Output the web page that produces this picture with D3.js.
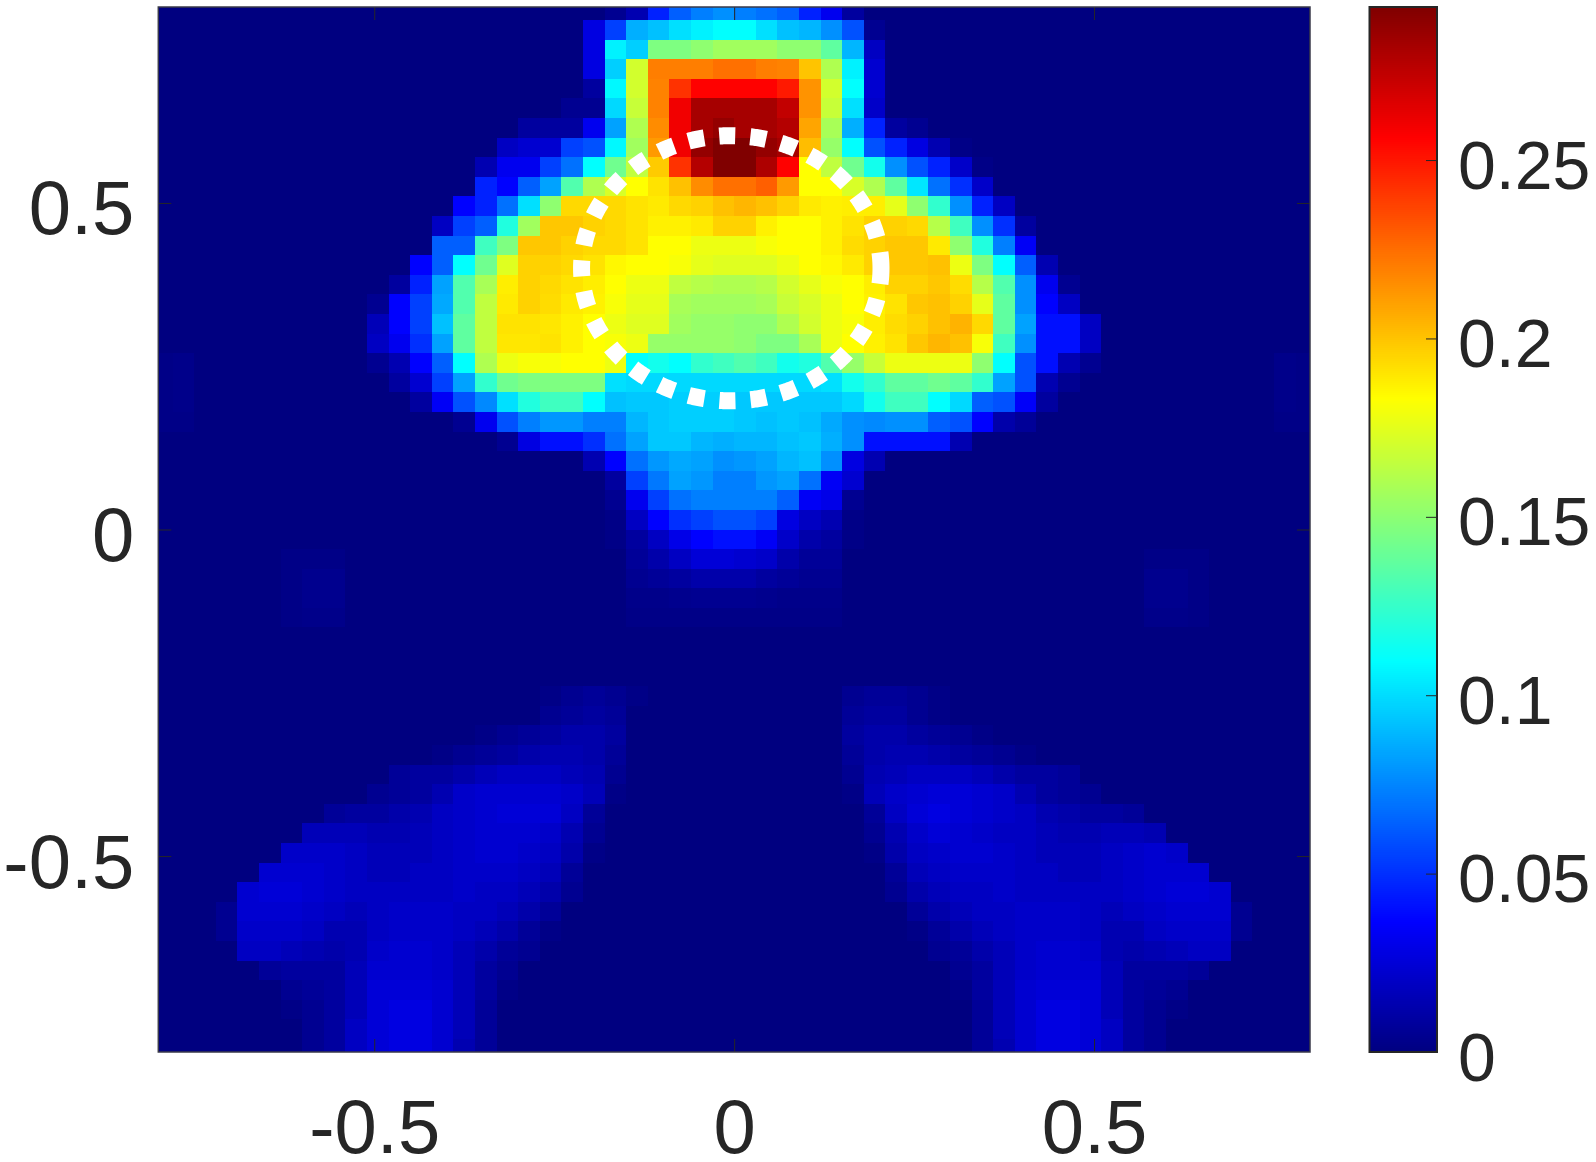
<!DOCTYPE html>
<html><head><meta charset="utf-8">
<script src="https://cdn.jsdelivr.net/npm/d3@7/dist/d3.min.js"></script>
<style>html,body{margin:0;padding:0;background:#fff}svg{display:block}</style>
</head><body><div id="chart"></div>
<script>
// cell values in thousandths, 54 columns per row, top row first
const row00=[0,0,0,0,0,0,0,0,0, 0,0,0,0,0,0,0,0,0, 0,0,0,5,14,46,64,73,78, 73,69,64,46,32,9,0,0,0, 0,0,0,0,0,0,0,0,0, 0,0,0,0,0,0,0,0,0];
const row01=[0,0,0,0,0,0,0,0,0, 0,0,0,0,0,0,0,0,0, 0,0,28,55,87,92,101,106,110, 110,101,92,89,78,60,5,0,0, 0,0,0,0,0,0,0,0,0, 0,0,0,0,0,0,0,0,0];
const row02=[0,0,0,0,0,0,0,0,0, 0,0,0,0,0,0,0,0,0, 0,0,28,106,96,146,146,151,156, 156,156,151,151,137,89,19,0,0, 0,0,0,0,0,0,0,0,0, 0,0,0,0,0,0,0,0,0];
const row03=[0,0,0,0,0,0,0,0,0, 0,0,0,0,0,0,0,0,0, 0,0,28,96,170,220,220,220,224, 224,220,219,200,160,106,23,0,0, 0,0,0,0,0,0,0,0,0, 0,0,0,0,0,0,0,0,0];
const row04=[0,0,0,0,0,0,0,0,0, 0,0,0,0,0,0,0,0,0, 0,0,9,108,170,219,242,256,256, 256,256,249,214,170,110,23,0,0, 0,0,0,0,0,0,0,0,0, 0,0,0,0,0,0,0,0,0];
const row05=[0,0,0,0,0,0,0,0,0, 0,0,0,0,0,0,0,0,0, 0,5,5,99,167,219,260,282,282, 282,282,274,214,167,101,21,0,0, 0,0,0,0,0,0,0,0,0, 0,0,0,0,0,0,0,0,0];
const row06=[0,0,0,0,0,0,0,0,0, 0,0,0,0,0,0,0,0,9, 9,9,32,83,160,216,260,282,287, 282,282,278,209,158,87,46,9,5, 0,0,0,0,0,0,0,0,0, 0,0,0,0,0,0,0,0,0];
const row07=[0,0,0,0,0,0,0,0,0, 0,0,0,0,0,0,0,19,23, 23,55,60,108,156,212,260,287,293, 293,287,282,202,153,110,60,46,28, 14,2,0,0,0,0,0,0,0, 0,0,0,0,0,0,0,0,0];
const row08=[0,0,0,0,0,0,0,0,0, 0,0,0,0,0,0,14,32,32, 55,69,110,142,165,198,242,278,293, 293,280,256,183,165,142,115,78,60, 46,21,2,0,0,0,0,0,0, 0,0,0,0,0,0,0,0,0];
const row09=[0,0,0,0,0,0,0,0,0, 0,0,0,0,0,0,46,37,64, 83,133,160,172,183,191,201,216,224, 224,229,212,183,183,172,160,137,103, 69,50,21,0,0,0,0,0,0, 0,0,0,0,0,0,0,0,0];
const row10=[0,0,0,0,0,0,0,0,0, 0,0,0,0,0,37,46,69,101, 151,194,194,194,191,189,194,196,201, 204,201,196,189,187,188,188,176,151, 124,78,46,19,0,0,0,0,0, 0,0,0,0,0,0,0,0,0];
const row11=[0,0,0,0,0,0,0,0,0, 0,0,0,0,19,55,64,119,156, 199,199,196,194,191,187,187,189,196, 196,187,183,183,187,191,196,196,194, 162,128,78,50,9,0,0,0,0, 0,0,0,0,0,0,0,0,0];
const row12=[0,0,0,0,0,0,0,0,0, 0,0,0,0,64,64,128,146,199, 199,196,194,194,191,183,183,178,178, 178,181,183,183,187,193,196,199,199, 189,151,119,73,34,0,0,0,0, 0,0,0,0,0,0,0,0,0];
const row13=[0,0,0,0,0,0,0,0,0, 0,0,0,37,64,110,142,174,196, 196,194,191,185,183,183,181,176,174, 174,174,178,183,185,189,196,199,199, 201,178,146,110,64,14,0,0,0, 0,0,0,0,0,0,0,0,0];
const row14=[0,0,0,0,0,0,0,0,0, 0,0,9,46,83,133,158,188,196, 194,191,188,183,178,178,165,162,160, 160,162,170,176,181,183,188,196,196, 199,193,162,133,78,32,5,0,0, 0,0,0,0,0,0,0,0,0];
const row15=[0,0,0,0,0,0,0,0,0, 0,5,37,55,85,133,165,189,196, 193,189,187,181,176,176,158,156,156, 156,158,167,172,178,183,187,191,199, 201,196,176,137,78,37,19,0,0, 0,0,0,0,0,0,0,0,0];
const row16=[0,0,0,0,0,0,0,0,0, 0,16,37,55,92,137,165,191,191, 190,187,183,178,174,174,156,153,153, 151,151,160,170,178,181,188,193,196, 201,205,194,137,83,41,41,19,0, 0,0,0,0,0,0,0,0,0];
const row17=[0,0,0,0,0,0,0,0,0, 0,19,32,50,83,137,165,190,190, 191,187,183,181,178,153,153,153,153, 151,146,146,158,178,183,187,191,199, 204,201,181,128,78,41,41,19,0, 0,0,0,0,0,0,0,0,0];
const row18=[2,3,0,0,0,0,0,0,0, 0,5,14,37,64,110,160,178,181, 181,183,183,178,110,115,110,124,128, 133,128,115,119,133,153,167,178,178, 178,178,151,110,60,41,14,5,0, 0,0,0,0,0,0,0,3,2];
const row19=[2,3,0,0,0,0,0,0,0, 0,0,9,23,55,83,124,142,146, 146,146,146,101,99,99,99,99,99, 99,99,99,99,101,115,124,137,137, 142,137,124,83,60,14,5,0,0, 0,0,0,0,0,0,0,3,2];
const row20=[2,3,0,0,0,0,0,0,0, 0,0,0,9,34,60,76,101,119, 128,128,110,92,94,94,96,96,96, 94,94,94,94,94,99,115,128,128, 110,99,64,60,35,9,0,0,0, 0,0,0,0,0,0,0,3,2];
const row21=[2,2,0,0,0,0,0,0,0, 0,0,0,0,0,5,32,60,73, 80,80,73,73,89,94,96,96,96, 94,92,94,92,85,78,76,78,78, 64,60,37,12,7,0,0,0,0, 0,0,0,0,0,0,0,2,2];
const row22=[0,0,0,0,0,0,0,0,0, 0,0,0,0,0,0,0,5,28, 41,41,50,69,83,94,94,89,87, 89,89,92,94,87,78,41,41,41, 41,14,0,0,0,0,0,0,0, 0,0,0,0,0,0,0,0,0];
const row23=[0,0,0,0,0,0,0,0,0, 0,0,0,0,0,0,0,0,0, 0,0,14,37,69,80,85,83,78, 80,83,89,92,78,28,14,0,0, 0,0,0,0,0,0,0,0,0, 0,0,0,0,0,0,0,0,0];
const row24=[0,0,0,0,0,0,0,0,0, 0,0,0,0,0,0,0,0,0, 0,0,0,9,55,71,83,80,73, 73,80,83,69,34,23,0,0,0, 0,0,0,0,0,0,0,0,0, 0,0,0,0,0,0,0,0,0];
const row25=[0,0,0,0,0,0,0,0,0, 0,0,0,0,0,0,0,0,0, 0,0,0,5,32,55,69,73,73, 73,73,64,34,30,5,0,0,0, 0,0,0,0,0,0,0,0,0, 0,0,0,0,0,0,0,0,0];
const row26=[0,0,0,0,0,0,0,0,0, 0,0,0,0,0,0,0,0,0, 0,0,0,2,19,37,50,55,60, 60,55,28,19,14,2,0,0,0, 0,0,0,0,0,0,0,0,0, 0,0,0,0,0,0,0,0,0];
const row27=[0,0,0,0,0,0,0,0,0, 0,0,0,0,0,0,0,0,0, 0,0,0,2,9,19,30,37,41, 41,34,21,12,9,2,0,0,0, 0,0,0,0,0,0,0,0,0, 0,0,0,0,0,0,0,0,0];
const row28=[0,0,0,0,0,0,2,2,2, 0,0,0,0,0,0,0,0,0, 0,0,0,0,7,12,19,25,25, 23,21,12,7,7,0,0,0,0, 0,0,0,0,0,0,0,0,0, 0,2,2,2,0,0,0,0,0];
const row29=[0,0,0,0,0,0,2,4,4, 0,0,0,0,0,0,0,0,0, 0,0,0,0,5,7,9,12,12, 12,9,7,5,5,0,0,0,0, 0,0,0,0,0,0,0,0,0, 0,4,4,2,0,0,0,0,0];
const row30=[0,0,0,0,0,0,2,4,4, 0,0,0,0,0,0,0,0,0, 0,0,0,0,3,3,4,5,5, 5,4,3,3,3,0,0,0,0, 0,0,0,0,0,0,0,0,0, 0,4,4,2,0,0,0,0,0];
const row31=[0,0,0,0,0,0,2,3,3, 0,0,0,0,0,0,0,0,0, 0,0,0,0,2,2,2,2,2, 2,2,2,2,2,0,0,0,0, 0,0,0,0,0,0,0,0,0, 0,3,3,2,0,0,0,0,0];
const row32=[0,0,0,0,0,0,0,0,0, 0,0,0,0,0,0,0,0,0, 0,0,0,0,0,0,0,0,0, 0,0,0,0,0,0,0,0,0, 0,0,0,0,0,0,0,0,0, 0,0,0,0,0,0,0,0,0];
const row33=[0,0,0,0,0,0,0,0,0, 0,0,0,0,0,0,0,0,0, 0,0,0,0,0,0,0,0,0, 0,0,0,0,0,0,0,0,0, 0,0,0,0,0,0,0,0,0, 0,0,0,0,0,0,0,0,0];
const row34=[0,0,0,0,0,0,0,0,0, 0,0,0,0,0,0,0,0,0, 0,0,0,0,0,0,0,0,0, 0,0,0,0,0,0,0,0,0, 0,0,0,0,0,0,0,0,0, 0,0,0,0,0,0,0,0,0];
const row35=[0,0,0,0,0,0,0,0,0, 0,0,0,0,0,0,0,0,0, 2,5,7,5,2,0,0,0,0, 0,0,0,0,0,5,7,7,5, 2,0,0,0,0,0,0,0,0, 0,0,0,0,0,0,0,0,0];
const row36=[0,0,0,0,0,0,0,0,0, 0,0,0,0,0,0,0,0,0, 5,7,9,7,0,0,0,0,0, 0,0,0,0,0,7,9,9,5, 2,0,0,0,0,0,0,0,0, 0,0,0,0,0,0,0,0,0];
const row37=[0,0,0,0,0,0,0,0,0, 0,0,0,0,0,0,2,5,7, 9,12,12,9,0,0,0,0,0, 0,0,0,0,0,9,12,12,9, 7,5,2,0,0,0,0,0,0, 0,0,0,0,0,0,0,0,0];
const row38=[0,0,0,0,0,0,0,0,0, 0,0,0,0,2,5,7,9,12, 14,14,12,7,0,0,0,0,0, 0,0,0,0,0,7,12,14,14, 12,9,7,5,2,0,0,0,0, 0,0,0,0,0,0,0,0,0];
const row39=[0,0,0,0,0,0,0,0,0, 0,0,7,9,9,12,16,19,19, 19,16,14,5,0,0,0,0,0, 0,0,0,0,0,5,14,16,19, 19,19,16,12,9,9,7,0,0, 0,0,0,0,0,0,0,0,0];
const row40=[0,0,0,0,0,0,0,0,0, 0,5,7,9,14,21,23,23,23, 23,21,16,2,0,0,0,0,0, 0,0,0,0,0,2,16,21,23, 25,25,23,21,14,9,7,5,0, 0,0,0,0,0,0,0,0,0];
const row41=[0,0,0,0,0,0,0,0,7, 9,9,12,14,19,21,23,25,25, 25,19,7,0,0,0,0,0,0, 0,0,0,0,0,0,7,19,25, 28,25,23,21,19,14,12,9,9, 7,0,0,0,0,0,0,0,0];
const row42=[0,0,0,0,0,0,0,16,16, 16,14,14,16,19,21,23,23,23, 21,14,5,0,0,0,0,0,0, 0,0,0,0,0,0,5,14,21, 25,23,21,19,19,16,14,14,16, 16,14,0,0,0,0,0,0,0];
const row43=[0,0,0,0,0,0,21,21,21, 19,16,16,16,19,21,23,23,21, 19,12,2,0,0,0,0,0,0, 0,0,0,0,0,0,2,12,19, 21,23,23,21,19,16,16,16,19, 21,23,21,0,0,0,0,0,0];
const row44=[0,0,0,0,0,23,23,23,21, 19,16,16,19,19,21,21,21,19, 16,7,0,0,0,0,0,0,0, 0,0,0,0,0,0,0,7,16, 19,21,21,21,19,19,16,16,19, 21,23,23,23,0,0,0,0,0];
const row45=[0,0,0,0,23,25,25,23,21, 19,19,19,19,19,21,19,19,16, 12,5,0,0,0,0,0,0,0, 0,0,0,0,0,0,0,5,12, 16,19,19,21,19,19,19,19,19, 21,23,25,25,23,0,0,0,0];
const row46=[0,0,0,5,23,23,23,21,19, 16,19,21,21,21,19,19,16,12, 7,0,0,0,0,0,0,0,0, 0,0,0,0,0,0,0,0,7, 12,16,19,19,21,21,21,19,16, 19,21,23,23,23,5,0,0,0];
const row47=[0,0,0,5,21,21,21,19,14, 14,19,21,21,21,19,16,12,7, 2,0,0,0,0,0,0,0,0, 0,0,0,0,0,0,0,0,2, 7,12,16,19,21,21,21,19,14, 14,19,21,21,21,5,0,0,0];
const row48=[0,0,0,0,19,19,16,14,12, 14,21,23,23,21,16,12,7,5, 0,0,0,0,0,0,0,0,0, 0,0,0,0,0,0,0,0,0, 5,7,12,16,21,23,23,21,14, 12,14,16,19,19,0,0,0,0];
const row49=[0,0,0,0,0,7,9,9,9, 16,23,23,23,21,16,9,5,0, 0,0,0,0,0,0,0,0,0, 0,0,0,0,0,0,0,0,0, 0,5,9,16,21,23,23,23,16, 9,9,9,7,0,0,0,0,0];
const row50=[0,0,0,0,0,0,5,7,9, 16,25,25,25,23,16,9,2,0, 0,0,0,0,0,0,0,0,0, 0,0,0,0,0,0,0,0,0, 0,2,9,16,23,25,25,25,16, 9,7,5,0,0,0,0,0,0];
const row51=[0,0,0,0,0,0,2,5,9, 16,25,28,28,23,16,7,0,0, 0,0,0,0,0,0,0,0,0, 0,0,0,0,0,0,0,0,0, 0,0,7,16,23,28,28,25,16, 9,5,2,0,0,0,0,0,0];
const row52=[0,0,0,0,0,0,0,5,9, 19,25,28,28,23,16,7,0,0, 0,0,0,0,0,0,0,0,0, 0,0,0,0,0,0,0,0,0, 0,0,7,16,23,28,28,25,19, 9,5,0,0,0,0,0,0,0];
const row53=[0,0,0,0,0,0,0,5,9, 19,25,28,28,23,14,7,0,0, 0,0,0,0,0,0,0,0,0, 0,0,0,0,0,0,0,0,0, 0,0,7,14,23,28,28,25,19, 9,5,0,0,0,0,0,0,0];
const rows=[row00,row01,row02,row03,row04,row05,row06,row07,row08,row09,row10,row11,row12,row13,row14,row15,row16,row17,row18,row19,row20,row21,row22,row23,row24,row25,row26,row27,row28,row29,row30,row31,row32,row33,row34,row35,row36,row37,row38,row39,row40,row41,row42,row43,row44,row45,row46,row47,row48,row49,row50,row51,row52,row53];
const xTicks=[-0.5,0,0.5];
const yTicks=[-0.5,0,0.5];
const cTicks=[0,0.05,0.1,0.15,0.2,0.25];
const cellStep=0.03, gridEdge=0.81, axisLimit=0.8, colorMax=0.2929;
const ringCx=-0.004, ringCy=0.4, ringRx=0.208, ringRy=0.203;
const jetStops=["#000080","#0000ff","#00ffff","#ffff00","#ff0000","#800000"];
const jetPos=[0,0.125,0.375,0.625,0.875,1];

const W=1596,H=1162;
const box={l:158.3,r:1310,t:7,b:1052};
const bar={l:1369.5,r:1437};
const ink="#262626";
const svg=d3.select("#chart").append("svg").attr("width",W).attr("height",H).style("font-family","'Liberation Sans',Arial,sans-serif");
svg.append("rect").attr("width",W).attr("height",H).attr("fill","#fff");
const x=d3.scaleLinear().domain([-axisLimit,axisLimit]).range([box.l,box.r]);
const y=d3.scaleLinear().domain([axisLimit,-axisLimit]).range([box.t,box.b]);
const c=d3.scaleLinear().domain([0,colorMax]).range([box.b,box.t]);
const jet=d3.scaleLinear().domain(jetPos.map(p=>p*colorMax)).range(jetStops).clamp(true);

svg.append("clipPath").attr("id","plotclip").append("rect").attr("x",box.l).attr("y",box.t).attr("width",box.r-box.l).attr("height",box.b-box.t);
const cells=[];
rows.forEach((r,ri)=>r.forEach((v,ci)=>cells.push({ri,ci,v:v/1000})));
const plot=svg.append("g").attr("clip-path","url(#plotclip)");
plot.append("g").attr("shape-rendering","crispEdges").selectAll("rect").data(cells).join("rect")
 .attr("x",d=>x(-gridEdge+d.ci*cellStep))
 .attr("y",d=>y(gridEdge-d.ri*cellStep))
 .attr("width",x(cellStep)-x(0))
 .attr("height",y(0)-y(cellStep))
 .attr("fill",d=>jet(d.v));

// dashed circle
const ringLine=d3.line().x(a=>x(ringCx+ringRx*Math.cos(a))).y(a=>y(ringCy+ringRy*Math.sin(a)));
plot.append("path").datum(d3.range(0,721).map(a=>a*Math.PI/360)).attr("d",ringLine)
 .attr("fill","none").attr("stroke","#fff").attr("stroke-width",17).attr("stroke-dasharray","16 15.14");

// axes
function fmt(d){return d===0?"0":String(d);}
function styleAxis(g,size){g.select(".domain").remove();g.selectAll("line").attr("stroke",ink).attr("stroke-width",1);g.selectAll("text").attr("fill",ink).attr("font-size",size).attr("font-family","'Liberation Sans',Arial,sans-serif");}
const gb=svg.append("g").attr("transform",`translate(0,${box.b})`).call(d3.axisBottom(x).tickValues(xTicks).tickSize(-13).tickFormat(fmt));
styleAxis(gb,76);gb.selectAll("text").attr("y",101).attr("dy",0);
const gt=svg.append("g").attr("transform",`translate(0,${box.t})`).call(d3.axisTop(x).tickValues(xTicks).tickSize(-13).tickFormat(""));
styleAxis(gt,76);
const gl=svg.append("g").attr("transform",`translate(${box.l},0)`).call(d3.axisLeft(y).tickValues(yTicks).tickSize(-13).tickFormat(fmt));
styleAxis(gl,76);gl.selectAll("text").attr("x",-24).attr("dy",31);
const gr=svg.append("g").attr("transform",`translate(${box.r},0)`).call(d3.axisRight(y).tickValues(yTicks).tickSize(-13).tickFormat(""));
styleAxis(gr,76);
svg.append("rect").attr("x",box.l).attr("y",box.t).attr("width",box.r-box.l).attr("height",box.b-box.t).attr("fill","none").attr("stroke","#3a3a4a").attr("stroke-width",1.5);

// colour bar
const steps=d3.range(0,512).map(i=>i/512*colorMax);
svg.append("g").attr("shape-rendering","crispEdges").selectAll("rect").data(steps).join("rect")
 .attr("x",bar.l).attr("width",bar.r-bar.l)
 .attr("y",d=>c(d+colorMax/512)).attr("height",c(0)-c(colorMax/512)+0.5)
 .attr("fill",d=>jet(d+colorMax/1024));
const gc=svg.append("g").attr("transform",`translate(${bar.r},0)`).call(d3.axisRight(c).tickValues(cTicks).tickSize(-11).tickFormat(fmt));
styleAxis(gc,68);gc.selectAll("text").attr("x",21).attr("dy",28);
svg.append("rect").attr("x",bar.l).attr("y",box.t).attr("width",bar.r-bar.l).attr("height",box.b-box.t).attr("fill","none").attr("stroke",ink).attr("stroke-width",2);
</script></body></html>
